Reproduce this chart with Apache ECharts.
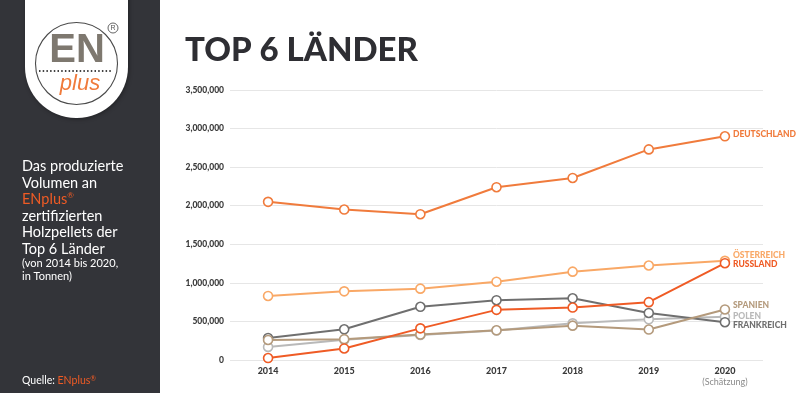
<!DOCTYPE html>
<html>
<head>
<meta charset="utf-8">
<script src="https://cdn.jsdelivr.net/npm/echarts@6/dist/echarts.min.js"></script>
<style>
html,body{margin:0;padding:0;background:#fff;}
#chart{width:800px;height:393px;}
</style>
</head>
<body>
<div id="chart"></div>
<script>
var years = ['2014','2015','2016','2017','2018','2019','2020'];
var yTicks = [0, 500000, 1000000, 1500000, 2000000, 2500000, 3000000, 3500000];
var deutschland = [2050000, 1950000, 1890000, 2240000, 2360000, 2730000, 2900000];
var oesterreich = [830000, 890000, 925000, 1015000, 1145000, 1225000, 1285000];
var russland   = [25000, 150000, 410000, 650000, 680000, 750000, 1255000];
var frankreich = [285000, 398000, 690000, 775000, 800000, 610000, 490000];
var polen      = [170000, 262000, 325000, 382000, 475000, 527000, 562000];
var spanien    = [260000, 270000, 330000, 385000, 445000, 395000, 655000];
var seriesNames = ['DEUTSCHLAND','ÖSTERREICH','RUSSLAND','SPANIEN','POLEN','FRANKREICH'];

var chart = echarts.init(document.getElementById('chart'), null, {renderer:'canvas'});

function mk(name, data, color, offY, z){
  return {
    name: name, type: 'line', data: data, z: z,
    symbol: 'circle', symbolSize: 9,
    lineStyle: {color: color, width: 2},
    itemStyle: {color: '#fff', borderColor: color, borderWidth: 1.6},
    emphasis: {disabled: true},
    endLabel: {
      show: true, formatter: name, color: color,
      fontFamily: 'Lato', fontWeight: 900, fontSize: 8.5,
      distance: 8, offset: [0, offY]
    }
  };
}

var fontF = 'Lato';
var option = {
  animation: false,
  backgroundColor: '#fff',
  grid: {left: 230, right: 37, top: 90, bottom: 33},
  xAxis: {
    type: 'category', data: years, boundaryGap: true,
    axisLine: {show: false}, axisTick: {show: false},
    axisLabel: {
      color: '#3a3a3a', fontFamily: fontF, fontWeight: 900, fontSize: 9, margin: 6,
      formatter: function(v){ return v === '2020' ? '{b|2020}\n{s|(Schätzung)}' : '{b|' + v + '}'; },
      rich: {
        b: {color: '#3a3a3a', fontFamily: fontF, fontWeight: 900, fontSize: 9, lineHeight: 11},
        s: {color: '#8a8a8a', fontFamily: fontF, fontWeight: 400, fontSize: 9, lineHeight: 11}
      }
    }
  },
  yAxis: {
    type: 'value', min: yTicks[0], max: yTicks[yTicks.length-1], interval: 500000,
    axisLine: {show: false}, axisTick: {show: false},
    splitLine: {lineStyle: {color: '#e6e6e6', width: 1}},
    axisLabel: {
      color: '#3a3a3a', fontFamily: fontF, fontWeight: 900, fontSize: 8.5, margin: 6,
      formatter: function(v){ return v.toLocaleString('en-US'); }
    }
  },
  series: [
    mk(seriesNames[0], deutschland, '#f07b3c', -2, 6),
    mk(seriesNames[1], oesterreich, '#f9a866', -6, 3),
    mk(seriesNames[2], russland, '#ef5b25', 1, 5),
    mk(seriesNames[3], spanien, '#b49a7c', -4, 4),
    mk(seriesNames[4], polen, '#b9b9b9', 0, 2),
    mk(seriesNames[5], frankreich, '#6f6f6f', 3, 3)
  ],
  graphic: [
    {type: 'rect', shape: {x: 0, y: 0, width: 160, height: 393}, style: {fill: '#333439'}, z: 1},
    {type: 'rect', shape: {x: 25, y: -60, width: 103, height: 178, r: [0,0,51,51]},
      style: {fill: '#ffffff', shadowBlur: 4, shadowColor: 'rgba(0,0,0,0.35)', shadowOffsetX: 1, shadowOffsetY: 1}, z: 2},
    {type: 'circle', shape: {cx: 76.5, cy: 63.5, r: 41}, style: {fill: '#fff', stroke: '#4a4a4a', lineWidth: 1.1}, z: 3},
    {type: 'text', x: 77, y: 51, style: {text: 'EN', fill: '#7e786f', font: 'bold 40px "Liberation Sans"', align: 'center', verticalAlign: 'middle'}, z: 4},
    {type: 'line', shape: {x1: 39, y1: 71, x2: 113, y2: 71}, style: {stroke: '#444', lineWidth: 2, lineDash: [1.5, 2.2]}, z: 4},
    {type: 'text', x: 80, y: 84, style: {text: 'plus', fill: '#f07b3c', font: 'italic 22px "Liberation Sans"', align: 'center', verticalAlign: 'middle'}, z: 4},
    {type: 'circle', shape: {cx: 113, cy: 28, r: 5}, style: {fill: 'none', stroke: '#555', lineWidth: 0.9}, z: 4},
    {type: 'text', x: 113, y: 28.5, style: {text: 'R', fill: '#555', font: '7px "Liberation Sans"', align: 'center', verticalAlign: 'middle'}, z: 4},
    {type: 'text', x: 22, y: 158, z: 4, style: {
      text: '{w|Das produzierte}\n{w|Volumen an}\n{o|ENplus}{r|®}\n{w|zertifizierten}\n{w|Holzpellets der}\n{w|Top 6 Länder}\n{s|(von 2014 bis 2020,}\n{s|in Tonnen)}',
      rich: {
        w: {fill: '#ffffff', fontFamily: fontF, fontSize: 14.5, lineHeight: 16.6},
        o: {fill: '#ef5b25', fontFamily: fontF, fontSize: 14.5, lineHeight: 16.6},
        r: {fill: '#ef5b25', fontFamily: fontF, fontSize: 8, lineHeight: 16.6, verticalAlign: 'top'},
        s: {fill: '#ffffff', fontFamily: fontF, fontSize: 11, lineHeight: 12.5}
      }
    }},
    {type: 'text', x: 22, y: 375, z: 4, style: {
      text: '{w|Quelle: }{o|ENplus}{r|®}',
      rich: {
        w: {fill: '#ffffff', fontFamily: fontF, fontSize: 10.5},
        o: {fill: '#ef5b25', fontFamily: fontF, fontSize: 10.5},
        r: {fill: '#ef5b25', fontFamily: fontF, fontSize: 7, verticalAlign: 'top'}
      }
    }},
    {type: 'text', x: 185, y: 34, z: 4, style: {text: 'TOP 6 LÄNDER', fill: '#2e2e33', font: '900 33px Lato'}}
  ]
};
chart.setOption(option);
</script>
</body>
</html>
